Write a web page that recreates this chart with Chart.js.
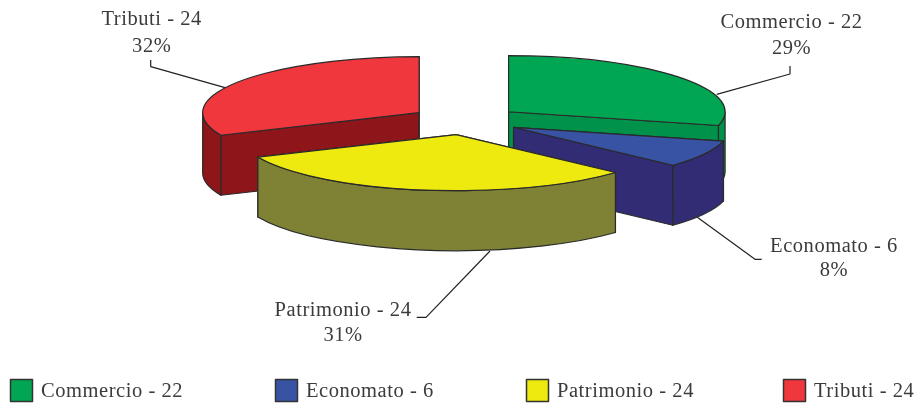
<!DOCTYPE html>
<html>
<head>
<meta charset="utf-8">
<title>Ripartizione</title>
<script src="https://cdn.jsdelivr.net/npm/chart.js@4"></script>
<style>
  html, body { margin: 0; background: #fff; }
  canvas { display: block; }
</style>
</head>
<body>
<canvas id="chart" width="919" height="403"></canvas>
<script>
const categories = ["Commercio", "Economato", "Patrimonio", "Tributi"];
const values = [22, 6, 24, 24];
const percents = [29, 8, 31, 32];

const topColors = ["#00a651", "#3953a4", "#eeea10", "#ef373d"];
const sideColors = ["#00924a", "#312c74", "#7f8235", "#8e1519"];

// look of the 3d pie
const pieX = 465.2;
const pieY = 120.5;
const pieRadius = 216.5;
const tilt = 0.259;
const depth = 60;
const explode = 55;
const edgeColor = "#2a2a2a";

const textColor = "#3b3b3b";
const font = "20.5px 'Liberation Serif'";
const spacing = "0.55px";

// label centre x, first baseline, second baseline, then the leader line
const labelPlaces = [
  { x: 791.5, y1: 28, y2: 54, line: [[790, 66], [790, 74], [716.7, 94.3]] },
  { x: 834, y1: 251.7, y2: 276, line: [[761.7, 259.3], [755, 259.3], [697.3, 217.3]] },
  { x: 343, y1: 316, y2: 340.7, line: [[416.7, 317.3], [426, 317.3], [490, 251]] },
  { x: 151.7, y1: 25, y2: 51.6, line: [[150.7, 60], [150.7, 66.7], [225, 87.7]] }
];
const legendX = [10.5, 275.5, 526.5, 783.5];
const legendY = 379.5;
const legendBox = 22;

function drawSlice(ctx, arc, i) {
  const mid = (arc.startAngle + arc.endAngle) / 2;
  const x = pieX + Math.cos(mid) * explode;
  const y = pieY + Math.sin(mid) * explode * tilt;
  const r = arc.outerRadius;
  const ry = r * tilt;

  ctx.fillStyle = sideColors[i];
  ctx.strokeStyle = edgeColor;
  ctx.lineWidth = 1.2;
  ctx.lineJoin = "round";

  // the two cut faces
  [arc.startAngle, arc.endAngle].forEach(a => {
    const ex = x + Math.cos(a) * r;
    const ey = y + Math.sin(a) * ry;
    ctx.beginPath();
    ctx.moveTo(x, y);
    ctx.lineTo(ex, ey);
    ctx.lineTo(ex, ey + depth);
    ctx.lineTo(x, y + depth);
    ctx.closePath();
    ctx.fill();
    ctx.stroke();
  });

  // the outer wall, only the part that faces us
  const from = Math.max(arc.startAngle, 0);
  const to = Math.min(arc.endAngle, Math.PI);
  if (from < to) {
    ctx.beginPath();
    ctx.ellipse(x, y, r, ry, 0, from, to);
    ctx.ellipse(x, y + depth, r, ry, 0, to, from, true);
    ctx.closePath();
    ctx.fill();
    ctx.stroke();
  }

  // the top, drawn by the library's own arc element
  ctx.save();
  ctx.translate(x, y);
  ctx.scale(1, tilt);
  ctx.translate(-arc.x, -arc.y);
  arc.draw(ctx);
  ctx.restore();

  ctx.beginPath();
  ctx.moveTo(x, y);
  ctx.ellipse(x, y, r, ry, 0, arc.startAngle, arc.endAngle);
  ctx.closePath();
  ctx.stroke();
}

function drawLabels(ctx) {
  ctx.font = font;
  ctx.letterSpacing = spacing;
  ctx.textBaseline = "alphabetic";

  categories.forEach((name, i) => {
    const text = name + " - " + values[i];
    const place = labelPlaces[i];

    ctx.fillStyle = textColor;
    ctx.textAlign = "center";
    ctx.fillText(text, place.x, place.y1);
    ctx.fillText(percents[i] + "%", place.x, place.y2);

    ctx.strokeStyle = "#222";
    ctx.lineWidth = 1.2;
    ctx.beginPath();
    place.line.forEach((p, k) => k ? ctx.lineTo(p[0], p[1]) : ctx.moveTo(p[0], p[1]));
    ctx.stroke();

    // legend
    ctx.fillStyle = topColors[i];
    ctx.strokeStyle = "#333";
    ctx.lineWidth = 1.5;
    ctx.fillRect(legendX[i], legendY, legendBox, legendBox);
    ctx.strokeRect(legendX[i], legendY, legendBox, legendBox);

    ctx.fillStyle = textColor;
    ctx.textAlign = "left";
    ctx.fillText(text, legendX[i] + legendBox + 8.5, legendY + 17.5);
  });
}

const pie3d = {
  id: "pie3d",
  beforeDatasetsDraw(chart) {
    const ctx = chart.ctx;
    const arcs = chart.getDatasetMeta(0).data;
    // back to front: Tributi, Commercio, Economato, Patrimonio
    [3, 0, 1, 2].forEach(i => drawSlice(ctx, arcs[i], i));
    drawLabels(ctx);
    return false;
  }
};

new Chart(document.getElementById("chart"), {
  type: "pie",
  data: {
    labels: categories,
    datasets: [{
      data: values,
      backgroundColor: topColors,
      borderWidth: 0
    }]
  },
  options: {
    responsive: false,
    animation: false,
    events: [],
    radius: pieRadius,
    plugins: {
      legend: { display: false },
      tooltip: { enabled: false }
    }
  },
  plugins: [pie3d]
});
</script>
</body>
</html>
